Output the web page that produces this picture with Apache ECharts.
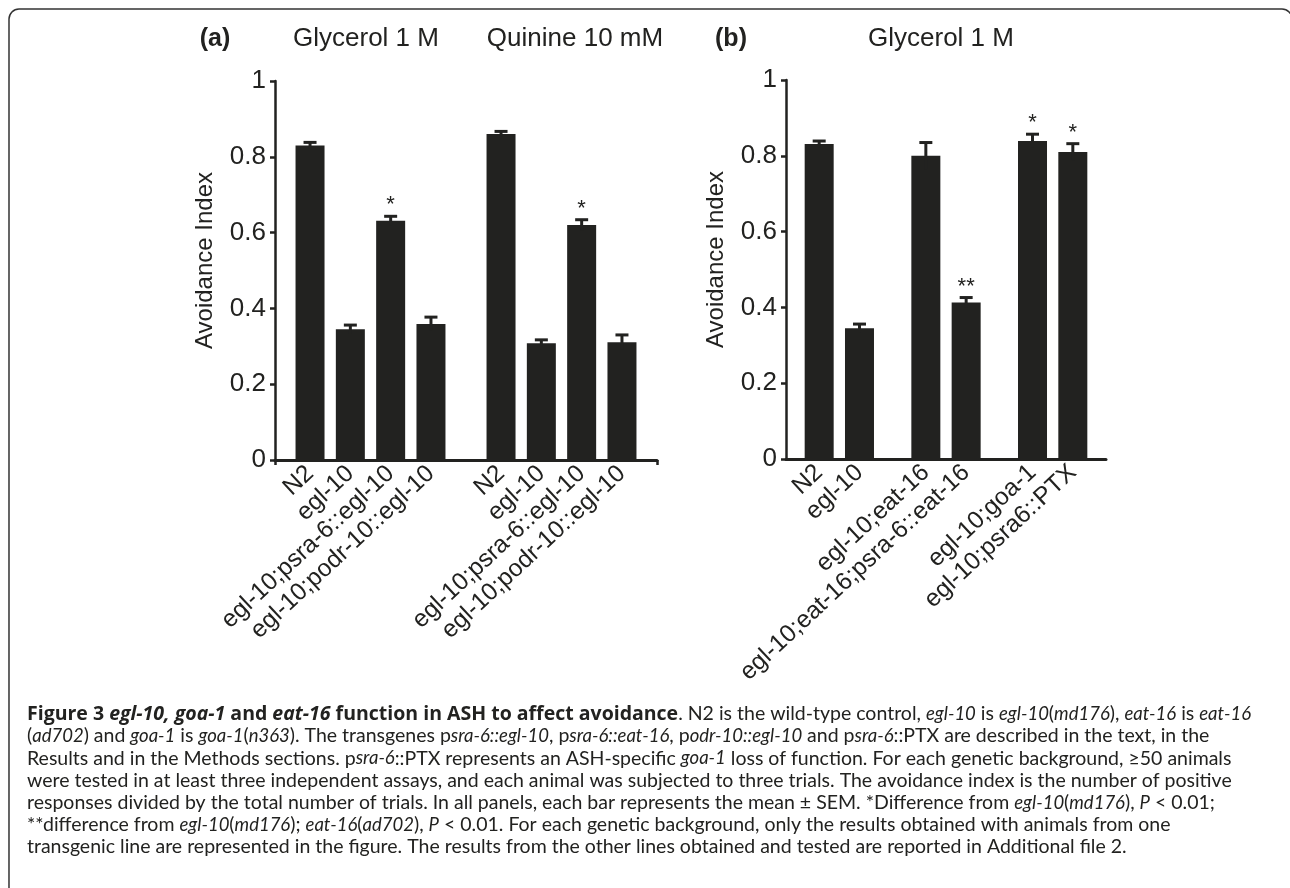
<!DOCTYPE html>
<html>
<head>
<meta charset="utf-8">
<script src="https://cdn.jsdelivr.net/npm/echarts@6/dist/echarts.min.js"></script>
<style>
  html, body { margin: 0; padding: 0; background: #fff; }
  #chart { width: 1290px; height: 888px; }
</style>
</head>
<body>
<div id="chart"></div>
<script>
// ---- data, panel (a): two stimuli, four genotypes each ----
const conditionsA = ['Glycerol 1 M', 'Quinine 10 mM'];
const genotypesA = ['N2', 'egl-10', 'egl-10;psra-6::egl-10', 'egl-10;podr-10::egl-10'];
const glycerolMeanA = [0.830, 0.345, 0.631, 0.359];
const glycerolSemA  = [0.008, 0.011, 0.012, 0.018];
const quinineMeanA  = [0.860, 0.308, 0.620, 0.311];
const quinineSemA   = [0.007, 0.009, 0.014, 0.019];
const glycerolStarsA = ['', '', '*', ''];
const quinineStarsA  = ['', '', '*', ''];

// ---- data, panel (b): glycerol 1 M, three pairs of genotypes ----
const conditionB = 'Glycerol 1 M';
const pairsB = ['egl-10', 'eat-16', 'goa-1'];
const genotypesB = ['N2', 'egl-10', 'egl-10;eat-16', 'egl-10;eat-16;psra-6::eat-16', 'egl-10;goa-1', 'egl-10;psra6::PTX'];
const meanB  = [0.831, 0.345, 0.800, 0.413, 0.839, 0.810];
const semB   = [0.008, 0.011, 0.035, 0.013, 0.018, 0.022];
const starsB = ['', '', '', '**', '*', '*'];

const yTicks = [0, 0.2, 0.4, 0.6, 0.8, 1];
const yName = 'Avoidance Index';

// ---- style ----
const INK = '#222220';
const FONT = 'Liberation Sans, Arial, sans-serif';
const CAP_FONT = 'Lato, sans-serif';
const CAP_SIZE = 19.5;
const BAR_W = 29;
const BAR_GAP = 0.39;                 // fraction of bar width
const BAR_STEP = BAR_W * (1 + BAR_GAP);

const chart = echarts.init(document.getElementById('chart'));

const genoLabel = {
  show: true,
  position: 'bottom',
  distance: 10,
  rotate: 43,
  align: 'right',
  verticalAlign: 'middle',
  fontFamily: FONT,
  fontSize: 24.5,
  color: INK
};

// error bar (+ significance stars) drawn next to grouped bars
function errorBars(nSlots, stars) {
  return function (params, api) {
    const cat = api.value(0), slot = api.value(1);
    const mean = api.value(2), sem = api.value(3);
    const x = api.coord([cat, 0])[0] + (slot - (nSlots - 1) / 2) * BAR_STEP;
    const yTop = api.coord([cat, mean + sem])[1];
    const yMid = api.coord([cat, mean - sem])[1];
    const line = { stroke: INK, lineWidth: 3 };
    const children = [
      { type: 'line', shape: { x1: x, y1: yMid, x2: x, y2: yTop }, style: line },
      { type: 'line', shape: { x1: x - 6.5, y1: yTop, x2: x + 6.5, y2: yTop }, style: line }
    ];
    const s = stars[params.dataIndex];
    if (s) {
      children.push({
        type: 'text',
        style: { text: s, x: x, y: yTop, align: 'center', verticalAlign: 'bottom',
                 fontFamily: FONT, fontSize: 22, fill: INK }
      });
    }
    return { type: 'group', children: children };
  };
}

// panel (a) series
const seriesA = genotypesA.map((g, k) => ({
  type: 'bar',
  name: g,
  xAxisIndex: 0, yAxisIndex: 0,
  barWidth: BAR_W,
  barGap: (BAR_GAP * 100) + '%',
  itemStyle: { color: INK },
  label: Object.assign({ formatter: '{a}' }, genoLabel),
  data: [glycerolMeanA[k], quinineMeanA[k]]
}));
const errDataA = [], errStarsA = [];
genotypesA.forEach((g, k) => {
  errDataA.push([0, k, glycerolMeanA[k], glycerolSemA[k]]);
  errStarsA.push(glycerolStarsA[k]);
  errDataA.push([1, k, quinineMeanA[k], quinineSemA[k]]);
  errStarsA.push(quinineStarsA[k]);
});

// panel (b) series: two bars per pair
const seriesB = [0, 1].map(slot => ({
  type: 'bar',
  name: 'b' + slot,
  xAxisIndex: 1, yAxisIndex: 1,
  barWidth: BAR_W,
  barGap: (BAR_GAP * 100) + '%',
  itemStyle: { color: INK },
  label: Object.assign({ formatter: p => genotypesB[p.dataIndex * 2 + slot] }, genoLabel),
  data: pairsB.map((p, i) => meanB[i * 2 + slot])
}));
const errDataB = meanB.map((m, i) => [Math.floor(i / 2), i % 2, m, semB[i]]);

function yAxis(gridIndex) {
  return {
    type: 'value',
    gridIndex: gridIndex,
    min: yTicks[0],
    max: yTicks[yTicks.length - 1],
    interval: yTicks[1] - yTicks[0],
    name: yName,
    nameLocation: 'middle',
    nameGap: 58,
    nameRotate: 90,
    nameTextStyle: { fontFamily: FONT, fontSize: 24, color: INK, padding: [0, 0, 0, 20] },
    splitLine: { show: false },
    axisLine: { show: true, lineStyle: { color: INK, width: 2.5 } },
    axisTick: { show: true, length: 5, lineStyle: { color: INK, width: 2.5 } },
    axisLabel: { fontFamily: FONT, fontSize: 26, color: INK, margin: 9 }
  };
}

function captionRich(segs) {
  return segs.map(s => '{' + s[0] + '|' + s[1] + '}').join('');
}
const captionLines = [
  [['b', 'Figure 3 '], ['bi', 'egl-10, goa-1'], ['b', ' and '], ['bi', 'eat-16'], ['b', ' function in ASH to affect avoidance'],
   ['r', '. N2 is the wild-type control, '], ['i', 'egl-10'], ['r', ' is '], ['i', 'egl-10'], ['r', '('], ['i', 'md176'],
   ['r', '), '], ['i', 'eat-16'], ['r', ' is '], ['i', 'eat-16']],
  [['r', '('], ['i', 'ad702'], ['r', ') and '], ['i', 'goa-1'], ['r', ' is '], ['i', 'goa-1'], ['r', '('], ['i', 'n363'],
   ['r', '). The transgenes p'], ['i', 'sra-6::egl-10'], ['r', ', p'], ['i', 'sra-6::eat-16'], ['r', ', p'], ['i', 'odr-10::egl-10'],
   ['r', ' and p'], ['i', 'sra-6'], ['r', '::PTX are described in the text, in the']],
  [['r', 'Results and in the Methods sections. p'], ['i', 'sra-6'], ['r', '::PTX represents an ASH-specific '], ['i', 'goa-1'],
   ['r', ' loss of function. For each genetic background, \u226550 animals']],
  [['r', 'were tested in at least three independent assays, and each animal was subjected to three trials. The avoidance index is the number of positive']],
  [['r', 'responses divided by the total number of trials. In all panels, each bar represents the mean \u00b1 SEM. *Difference from '],
   ['i', 'egl-10'], ['r', '('], ['i', 'md176'], ['r', '), '], ['i', 'P'], ['r', ' < 0.01;']],
  [['r', '**difference from '], ['i', 'egl-10'], ['r', '('], ['i', 'md176'], ['r', '); '], ['i', 'eat-16'], ['r', '('], ['i', 'ad702'],
   ['r', '), '], ['i', 'P'], ['r', ' < 0.01. For each genetic background, only the results obtained with animals from one']],
  [['r', 'transgenic line are represented in the figure. The results from the other lines obtained and tested are reported in Additional file 2.']]
];
const capBase = { fontFamily: CAP_FONT, fontSize: CAP_SIZE, fill: INK, color: INK };
const capBold = { fontFamily: 'Open Sans, sans-serif', fontSize: 19.5, fontWeight: 'bold', fill: INK, color: INK };
const capRich = {
  r: Object.assign({}, capBase),
  i: Object.assign({}, capBase, { fontStyle: 'italic', fontSize: 18.5 }),
  b: Object.assign({}, capBold),
  bi: Object.assign({}, capBold, { fontStyle: 'italic' })
};

const headText = (text, x, bold) => ({
  type: 'text', x: x, y: 39,
  style: { text: text, align: 'center', verticalAlign: 'middle', fontFamily: FONT,
           fontSize: bold ? 25 : 26, fontWeight: bold ? 'bold' : 'normal', fill: INK }
});

const option = {
  backgroundColor: '#fff',
  animation: false,
  grid: [
    { left: 275, top: 81, width: 382, height: 379 },
    { left: 786, top: 80, width: 320, height: 379 }
  ],
  xAxis: [
    {
      type: 'category', gridIndex: 0, data: conditionsA,
      axisLine: { lineStyle: { color: INK, width: 3 } },
      axisTick: { show: true, interval: i => i === 1, length: 5, lineStyle: { color: INK, width: 2.5 } },
      axisLabel: { show: false }
    },
    {
      type: 'category', gridIndex: 1, data: pairsB,
      axisLine: { lineStyle: { color: INK, width: 3 } },
      axisTick: { show: false },
      axisLabel: { show: false }
    }
  ],
  yAxis: [yAxis(0), yAxis(1)],
  series: seriesA.concat([{
    type: 'custom', xAxisIndex: 0, yAxisIndex: 0, z: 5, clip: false,
    renderItem: errorBars(genotypesA.length, errStarsA),
    encode: { x: 0, y: 2 },
    data: errDataA
  }]).concat(seriesB).concat([{
    type: 'custom', xAxisIndex: 1, yAxisIndex: 1, z: 5, clip: false,
    renderItem: errorBars(2, starsB),
    encode: { x: 0, y: 2 },
    data: errDataB
  }]),
  graphic: [
    { type: 'rect', shape: { x: 9, y: 9, width: 1283, height: 900, r: 10 },
      style: { fill: 'none', stroke: '#333', lineWidth: 1.5 } },
    headText('(a)', 215, true),
    headText(conditionsA[0], 366, false),
    headText(conditionsA[1], 575, false),
    headText('(b)', 731, true),
    headText(conditionB, 941, false)
  ].concat(captionLines.map((segs, k) => ({
    type: 'text', x: 27, y: 714 + k * 22.2,
    style: { text: captionRich(segs), rich: capRich, verticalAlign: 'middle', align: 'left',
             fontFamily: CAP_FONT, fontSize: CAP_SIZE, fill: INK }
  })))
};

chart.setOption(option);
</script>
</body>
</html>
